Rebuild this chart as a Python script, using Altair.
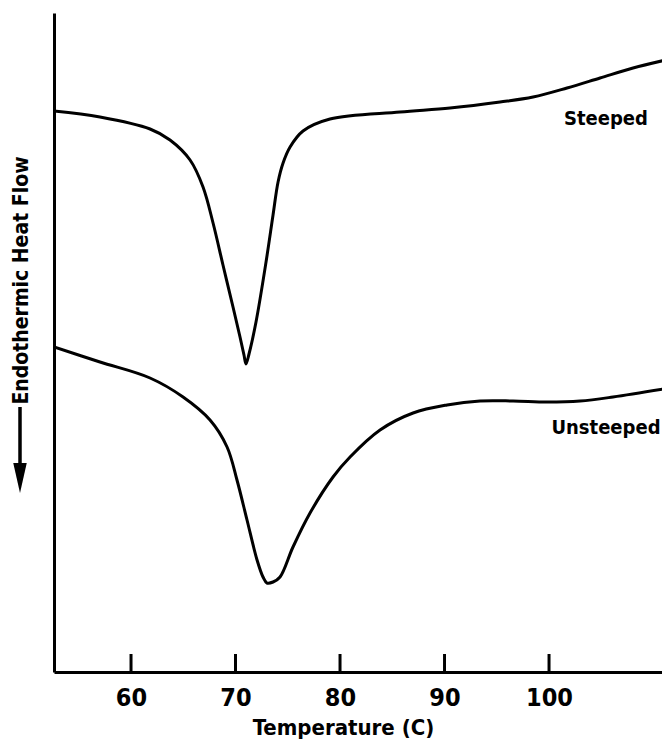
import altair as alt
import pandas as pd

# Temperature (C) and endothermic heat flow (arbitrary units)
steeped_temp = [52.63, 57.03, 61.82, 63.73, 65.65, 66.89, 67.85, 68.80, 69.76, 70.43,
                70.81, 71.00, 71.29, 71.96, 72.92, 73.59, 74.07, 74.55, 75.22, 76.46,
                79.04, 85.74, 90.53, 95.31, 98.47, 101.72, 104.88, 108.04, 111.58]
steeped_flow = [56.1, 55.5, 54.3, 53.2, 51.2, 48.5, 44.9, 40.7, 36.5, 33.5,
                31.7, 30.8, 31.8, 35.0, 41.0, 45.7, 49.0, 50.9, 52.5, 54.1,
                55.3, 56.0, 56.4, 57.0, 57.5, 58.4, 59.4, 60.4, 61.3]

unsteeped_temp = [52.63, 57.03, 61.82, 64.98, 67.56, 69.19, 70.14, 71.10, 72.06, 72.63,
                  73.01, 73.59, 74.26, 75.50, 77.13, 79.33, 80.96, 83.83, 86.99, 90.24,
                  93.40, 96.56, 99.81, 102.97, 106.12, 111.58]
unsteeped_flow = [32.5, 31.0, 29.4, 27.5, 25.2, 22.5, 19.2, 15.2, 11.2, 9.5,
                  8.9, 9.0, 9.5, 12.5, 15.9, 19.5, 21.5, 24.2, 25.9, 26.7,
                  27.1, 27.1, 27.0, 27.1, 27.5, 28.4]

tick_values = [60, 70, 80, 90, 100]
label_names = ["Steeped", "Unsteeped"]
label_temp = [105.45, 105.45]
label_flow = [55.35, 24.4]

X_DOMAIN = [52.63, 110.81]
Y_DOMAIN = [0, 65.9]
FONT = "DejaVu Sans Condensed, Roboto, sans-serif"

curves = pd.DataFrame({
    "temp": steeped_temp + unsteeped_temp,
    "flow": steeped_flow + unsteeped_flow,
    "series": ["Steeped"] * len(steeped_temp) + ["Unsteeped"] * len(unsteeped_temp),
})
labels = pd.DataFrame({"name": label_names, "temp": label_temp, "flow": label_flow})
ticks = pd.DataFrame({"t": tick_values})
one = pd.DataFrame({"a": [0]})

W, H = 608, 659

xscale = alt.Scale(domain=X_DOMAIN, nice=False, zero=False)
yscale = alt.Scale(domain=Y_DOMAIN, nice=False, zero=False)

lines = alt.Chart(curves).mark_line(
    color="black", strokeWidth=3, interpolate="catmull-rom", clip=True
).encode(
    x=alt.X("temp:Q", scale=xscale, axis=alt.Axis(
        values=tick_values, ticks=False, tickSize=0, grid=False,
        domainColor="black", domainWidth=3,
        labelFont=FONT, labelFontWeight="bold", labelFontSize=25, labelColor="black",
        labelPadding=13, labelFlush=False,
        title="Temperature (C)", titleFont=FONT, titleFontWeight="bold",
        titleFontSize=22, titleColor="black", titleX=289, titleY=62,
        titleAlign="center", titleBaseline="alphabetic",
    )),
    y=alt.Y("flow:Q", scale=yscale, axis=alt.Axis(
        labels=False, ticks=False, grid=False,
        domainColor="black", domainWidth=3,
        title="Endothermic Heat Flow", titleFont=FONT, titleFontWeight="bold",
        titleFontSize=21, titleColor="black", titleX=-33, titleY=267,
        titleAngle=-90, titleAlign="center", titleBaseline="middle",
    )),
    detail="series:N",
)

tick_marks = alt.Chart(ticks).mark_rule(color="black", strokeWidth=3).encode(
    x=alt.X("t:Q", scale=xscale),
    y=alt.value(H),
    y2=alt.value(H - 18),
)

text = alt.Chart(labels).mark_text(
    font=FONT, fontWeight="bold", fontSize=20, color="black",
    align="center", baseline="middle",
).encode(
    x=alt.X("temp:Q", scale=xscale),
    y=alt.Y("flow:Q", scale=yscale),
    text="name:N",
)

arrow_shaft = alt.Chart(one).mark_rule(color="black", strokeWidth=3.5).encode(
    x=alt.value(-34), y=alt.value(394), y2=alt.value(462),
)
arrow_head = alt.Chart(one).mark_point(
    shape="M-0.45,-1L0.45,-1L0,1Z", filled=True, color="black", opacity=1,
    size=900, strokeWidth=0,
).encode(
    x=alt.value(-34), y=alt.value(465),
)

chart = alt.layer(lines, tick_marks, text, arrow_shaft, arrow_head).properties(
    width=W, height=H,
    autosize=alt.AutoSizeParams(type="none"),
    padding={"left": 46, "top": 5, "right": 0, "bottom": 69},
    background="white",
).configure_view(stroke=None)

chart.save("out.html", embed_options={"renderer": "svg", "actions": False})
